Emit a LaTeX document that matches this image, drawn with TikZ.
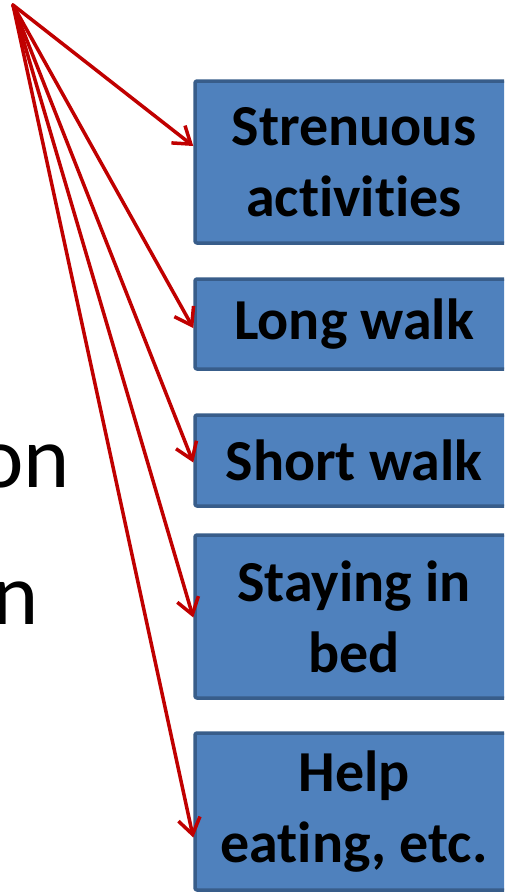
\documentclass[tikz,border=0pt]{standalone}
\usepackage{fontspec}
\setmainfont{Carlito}[Ligatures=NoCommon]
\usetikzlibrary{arrows.meta}
\definecolor{boxfill}{HTML}{4F81BD}
\definecolor{boxline}{HTML}{385D8A}
\definecolor{linkred}{HTML}{C00000}
\begin{document}
\begin{tikzpicture}[x=1pt,y=-1pt,line join=round,line cap=round,
	box/.style={draw=boxline,fill=boxfill,line width=3.5pt,rounded corners=2pt,minimum width=318pt,inner sep=0pt,align=center,font=\fontsize{58}{71}\selectfont\bfseries},
	link/.style={draw=linkred,line width=3.5pt,-{Straight Barb[length=16pt,width=22pt,line width=3.5pt]}},
	word/.style={anchor=base east,inner sep=0pt,font=\fontsize{88}{100}\selectfont}]
	% khung hình
	\useasboundingbox (0,0) rectangle (504,894);
	\clip (0,0) rectangle (504,894);
	% chữ bị cắt bên trái
	\node[word] (word1) at (70,487) {on};
	\node[word] (word2) at (39,624) {n};
	% các hộp
	\node[box,minimum height=162pt] (strenuous) at (354,162) {Strenuous\\activities};
	\node[box,minimum height=90pt] (longwalk) at (354,324) {Long walk};
	\node[box,minimum height=91pt] (shortwalk) at (354,460.5) {Short walk};
	\node[box,minimum height=163pt] (bed) at (354,616.5) {Staying in\\bed};
	\node[box,minimum height=157pt] (help) at (354,811.5) {Help\\eating, etc.};
	% các mũi tên
	\coordinate (src) at (13,5);
	\foreach \b/\s in {strenuous/16,longwalk/-4,shortwalk/-2,bed/-1,help/-26}{
		\draw[link] (src) -- ([yshift=\s pt]\b.west);
	}
\end{tikzpicture}
\end{document}
